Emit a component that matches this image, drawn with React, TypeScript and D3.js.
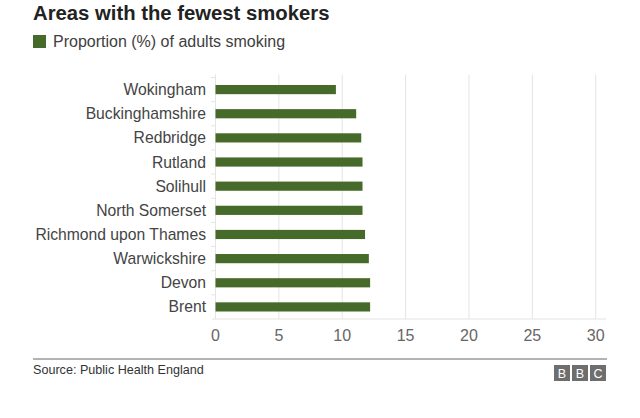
import React from "react";
import * as d3 from "d3";

const categories = [
  "Wokingham",
  "Buckinghamshire",
  "Redbridge",
  "Rutland",
  "Solihull",
  "North Somerset",
  "Richmond upon Thames",
  "Warwickshire",
  "Devon",
  "Brent",
];
const values = [9.5, 11.1, 11.5, 11.6, 11.6, 11.6, 11.8, 12.1, 12.2, 12.2];
const xTicks = [0, 5, 10, 15, 20, 25, 30];
const title = "Areas with the fewest smokers";
const legendLabel = "Proportion (%) of adults smoking";
const source = "Source: Public Health England";

const W = 640;
const H = 418;
const FONT = "'Liberation Sans', Arial, Helvetica, sans-serif";
const GREEN = "#456a29";

export default function App() {
  const x = d3.scaleLinear().domain([0, 30]).range([215.5, 595.7]);
  const y = d3.scaleBand<string>().domain(categories).range([77.5, 319]).paddingInner(0.62).paddingOuter(0.31);
  const yb = d3.scaleBand<string>().domain(categories).range([77.5, 319]);
  return (
    <svg width={W} height={H} style={{ position: "absolute", left: 0, top: 0, background: "#fff" }}>
      <text x={33} y={20} fontFamily={FONT} fontSize={20.3} fontWeight="bold" fill="#222">{title}</text>
      <rect x={33} y={35} width={13} height={13} fill={GREEN} />
      <text x={53} y={47} fontFamily={FONT} fontSize={16} fill="#404040">{legendLabel}</text>
      {xTicks.slice(1).map((t) => (
        <line key={t} x1={x(t)} x2={x(t)} y1={74.5} y2={319} stroke="#e4e4e4" strokeWidth={1} />
      ))}
      <line x1={x(0)} x2={x(0)} y1={74.5} y2={319} stroke="#e4e4e4" />
      <line x1={212} x2={606} y1={319} y2={319} stroke="#e4e4e4" />
      {categories.map((c) => (
        <line key={"tk" + c} x1={211} x2={215} y1={(yb(c) as number)} y2={(yb(c) as number)} stroke="#e4e4e4" />
      ))}
      {categories.map((c, i) => (
        <rect key={c} x={x(0)} y={y(c)} width={x(values[i]) - x(0)} height={y.bandwidth()} fill={GREEN} />
      ))}
      {categories.map((c) => (
        <text key={"l" + c} x={206} y={(yb(c) as number) + yb.bandwidth() / 2} dy="0.35em" textAnchor="end" fontFamily={FONT} fontSize={15.7} fill="#444">{c}</text>
      ))}
      {xTicks.map((t) => (
        <text key={"x" + t} x={x(t)} y={335} dy="0.35em" textAnchor="middle" fontFamily={FONT} fontSize={16} fill="#666">{t}</text>
      ))}
      <line x1={33} x2={607} y1={359} y2={359} stroke="#666" strokeWidth={1} />
      <text x={33} y={374} fontFamily={FONT} fontSize={12.6} fill="#333">{source}</text>
      {["B", "B", "C"].map((l, i) => (
        <g key={i}>
          <rect x={554 + i * 18} y={365} width={16} height={16} fill="#6e6e6e" />
          <text x={554 + i * 18 + 8} y={377.5} textAnchor="middle" fontFamily={FONT} fontSize={12.5} fill="#fff">{l}</text>
        </g>
      ))}
    </svg>
  );
}
